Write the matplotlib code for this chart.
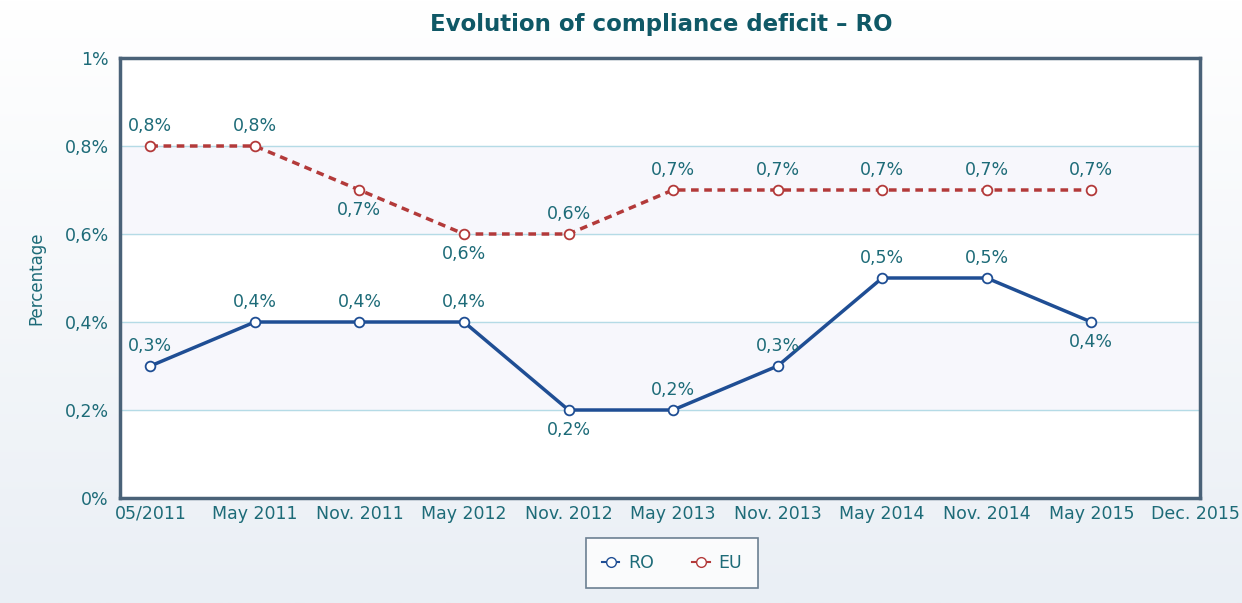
import numpy as np
import matplotlib.pyplot as plt
from matplotlib.lines import Line2D

# datos
categories = ['05/2011', 'May 2011', 'Nov. 2011', 'May 2012', 'Nov. 2012', 'May 2013',
              'Nov. 2013', 'May 2014', 'Nov. 2014', 'May 2015', 'Dec. 2015']
ro_values = [0.3, 0.4, 0.4, 0.4, 0.2, 0.2, 0.3, 0.5, 0.5, 0.4]
eu_values = [0.8, 0.8, 0.7, 0.6, 0.6, 0.7, 0.7, 0.7, 0.7, 0.7]
ro_label_pos = ['up', 'up', 'up', 'up', 'down', 'up', 'up', 'up', 'up', 'down']
eu_label_pos = ['up', 'up', 'down', 'down', 'up', 'up', 'up', 'up', 'up', 'up']
y_ticks = [0, 0.2, 0.4, 0.6, 0.8, 1.0]

text_col = '#1d6b78'
ro_col = '#1f4e94'
eu_col = '#b33a3a'

def fmt(v):
    s = ('%.1f' % v).replace('.', ',')
    if v == 0:
        s = '0'
    if v == 1:
        s = '1'
    return s + '%'

W, H = 1242, 603
fig = plt.figure(figsize=(W / 100, H / 100), dpi=100)
fig.patch.set_facecolor('#eef2f7')
# fondo con degradado suave
bg = fig.add_axes([0, 0, 1, 1], zorder=-10)
grad = np.linspace(0, 1, 256).reshape(-1, 1)
bg.imshow(grad, aspect='auto', cmap=plt.matplotlib.colors.LinearSegmentedColormap.from_list(
    'g', ['#ffffff', '#eaeff5']), extent=[0, 1, 0, 1], origin='upper')
bg.axis('off')

ax = fig.add_axes([120 / W, 1 - 498 / H, (1200 - 120) / W, (498 - 58) / H])
ax.set_facecolor('white')
x = np.arange(len(categories))
ax.set_xlim(-0.29, 10.04)
ax.set_ylim(0, 1.0)

# bandas alternas
for lo in [0.2, 0.6]:
    ax.axhspan(lo, lo + 0.2, color='#f7f7fc', zorder=0)
for t in y_ticks[1:-1]:
    ax.axhline(t, color='#b5dbe6', lw=1, zorder=1)

xr = x[:len(ro_values)]
ax.plot(xr, ro_values, color=ro_col, lw=2.5, marker='o', ms=7, mfc='white',
        mec=ro_col, mew=1.3, zorder=4)
ax.plot(xr, eu_values, color=eu_col, lw=2.5, ls=(0, (2.2, 1.6)), marker='o', ms=7,
        mfc='white', mec=eu_col, mew=1.3, zorder=3)

for xs, vals, pos in [(xr, ro_values, ro_label_pos), (xr, eu_values, eu_label_pos)]:
    for xi, v, p in zip(xs, vals, pos):
        dy = 8 if p == 'up' else -8
        ax.annotate(fmt(v), (xi, v), xytext=(0, dy), textcoords='offset points',
                    ha='center', va='bottom' if p == 'up' else 'top',
                    fontsize=12.5, color=text_col, zorder=5)

ax.set_xticks(x)
ax.set_xticklabels(categories)
ax.set_yticks(y_ticks)
ax.set_yticklabels([fmt(v) for v in y_ticks])
ax.tick_params(length=0, labelsize=12.5, labelcolor=text_col, pad=5)
ax.tick_params(axis='y', pad=8)
for s in ax.spines.values():
    s.set_color('#4a6278')
    s.set_linewidth(2.5)

ax.set_ylabel('Percentage', color=text_col, fontsize=12, labelpad=14)
fig.text(661 / W, 1 - 25 / H, 'Evolution of compliance deficit \u2013 RO', ha='center',
         va='center', fontsize=16.5, fontweight='bold', color='#0f5866')

handles = [Line2D([], [], color=ro_col, marker='o', mfc='white', mec=ro_col, lw=1.5, ms=7),
           Line2D([], [], color=eu_col, marker='o', mfc='white', mec=eu_col, lw=1.5, ms=7)]
leg = fig.legend(handles, ['RO', 'EU'], loc='center', bbox_to_anchor=(672 / W, 1 - 563 / H),
                 ncol=2, frameon=True, fancybox=False, fontsize=12.5, handlelength=1.0,
                 columnspacing=2.2, handletextpad=0.5, borderpad=0.9, borderaxespad=0)
leg.get_frame().set_edgecolor('#4a6278')
leg.get_frame().set_linewidth(1.2)
for t in leg.get_texts():
    t.set_color(text_col)

fig.savefig('out.png', dpi=100, facecolor=fig.get_facecolor())
